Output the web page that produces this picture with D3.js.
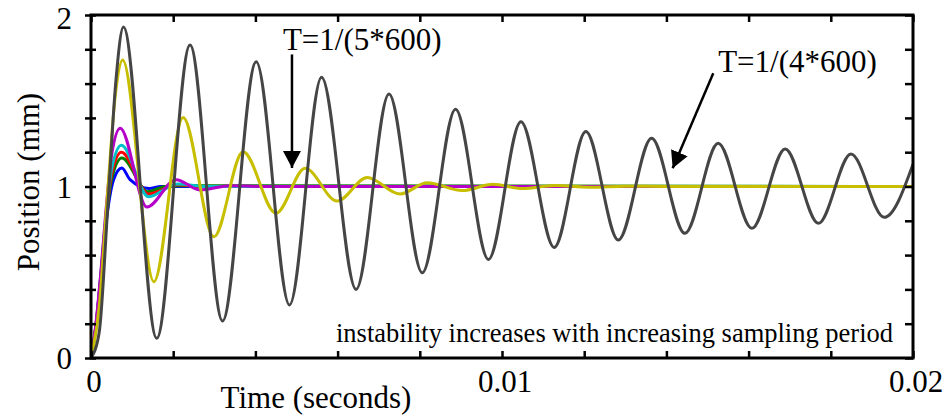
<!DOCTYPE html>
<html>
<head>
<meta charset="utf-8">
<script src="https://cdn.jsdelivr.net/npm/d3@7"></script>
<style>
  body { margin: 0; background: #fff; }
  text { font-family: "Liberation Serif", "Times New Roman", serif; fill: #000; }
</style>
</head>
<body>
<script>

// ---- data (time in s, position in mm) ----
var grayT = [0, 0.0002, 0.0004, 0.0006, 0.00079, 0.0016, 0.00241, 0.0032, 0.00402, 0.00483, 0.00561, 0.00645,
             0.00725, 0.00806, 0.00887, 0.00967, 0.01046, 0.01127, 0.01204, 0.01283, 0.01364, 0.01445,
             0.01526, 0.01608, 0.01689, 0.0177, 0.01849, 0.0193, 0.02];
var grayY = [0, 0.15, 0.85, 1.6, 1.93, 0.115, 1.825, 0.216, 1.728, 0.309, 1.637, 0.40,
             1.539, 0.497, 1.45, 0.575, 1.378, 0.645, 1.32, 0.688, 1.281, 0.727,
             1.252, 0.756, 1.219, 0.785, 1.19, 0.82, 1.13];

var yellowT = [0, 0.0002, 0.0004, 0.0006, 0.00077, 0.00153, 0.00224, 0.00299, 0.0037, 0.0045, 0.00521,
               0.00599, 0.00672, 0.00752, 0.00818, 0.00903, 0.00978, 0.01049, 0.01129, 0.01214, 0.013, 0.014, 0.02];
var yellowY = [0, 0.3, 0.95, 1.55, 1.738, 0.445, 1.403, 0.707, 1.203, 0.844, 1.106,
               0.915, 1.053, 0.956, 1.022, 0.976, 1.013, 0.988, 1.006, 0.996, 1.002, 1.0, 1.0];

var magentaT = [0, 0.00012, 0.00024, 0.00036, 0.0005, 0.00071, 0.00136, 0.00207, 0.00265, 0.00338, 0.0042, 0.02];
var magentaY = [0, 0.2, 0.5, 0.85, 1.18, 1.34, 0.88, 1.04, 0.98, 1.005, 1.0, 1.0];

var cyanT = [0, 0.00012, 0.00024, 0.00036, 0.0005, 0.00074, 0.0014, 0.0021, 0.0028, 0.02];
var cyanY = [0, 0.19, 0.49, 0.82, 1.1, 1.24, 0.94, 1.015, 1.0, 1.0];

var redT = [0, 0.00012, 0.00024, 0.00036, 0.0005, 0.00074, 0.0014, 0.0021, 0.0027, 0.02];
var redY = [0, 0.19, 0.48, 0.8, 1.07, 1.2, 0.956, 1.01, 1.0, 1.0];

var greenT = [0, 0.00012, 0.00024, 0.00036, 0.0005, 0.00075, 0.00138, 0.0018, 0.0021, 0.02];
var greenY = [0, 0.18, 0.47, 0.78, 1.04, 1.166, 0.97, 1.0, 1.005, 1.0];

var blueT = [0, 0.00012, 0.00025, 0.0004, 0.00055, 0.00075, 0.00095, 0.00142, 0.0017, 0.02];
var blueY = [0, 0.18, 0.5, 0.85, 1.04, 1.108, 1.04, 0.988, 1.0, 1.0];

var xTickLabels = [0, 0.01, 0.02];
var yTickLabels = [0, 1, 2];

// ---- canvas ----
var W = 947, H = 416;
var svg = d3.select("body").append("svg")
    .attr("width", W)
    .attr("height", H);

var x = d3.scaleLinear().domain([0, 0.02]).range([91, 913]);
var y = d3.scaleLinear().domain([0, 2]).range([358, 15]);

svg.append("clipPath").attr("id", "plotclip")
  .append("rect")
    .attr("x", x(0)).attr("y", y(2))
    .attr("width", x(0.02) - x(0)).attr("height", y(0) - y(2));

// ---- curves ----
var line = d3.line()
    .x(function(d) { return x(d[0]); })
    .y(function(d) { return y(d[1]); })
    .curve(d3.curveMonotoneX);

function pairs(ts, ys) { return ts.map(function(t, i) { return [t, ys[i]]; }); }

var series = [
  {c: "#0000ff", d: pairs(blueT, blueY)},
  {c: "#008000", d: pairs(greenT, greenY)},
  {c: "#ff0000", d: pairs(redT, redY)},
  {c: "#00c0c8", d: pairs(cyanT, cyanY)},
  {c: "#b400c8", d: pairs(magentaT, magentaY)},
  {c: "#c8be00", d: pairs(yellowT, yellowY)},
  {c: "#454545", d: pairs(grayT, grayY)}
];

svg.append("g").attr("clip-path", "url(#plotclip)")
  .selectAll("path").data(series).enter().append("path")
    .attr("d", function(s) { return line(s.d); })
    .attr("fill", "none")
    .attr("stroke", function(s) { return s.c; })
    .attr("stroke-width", 3)
    .attr("stroke-linejoin", "round");

// ---- axes (tick marks only) ----
var xt = d3.range(0, 0.02001, 0.002), yt = d3.range(0, 2.001, 0.2);

svg.append("g").attr("transform", "translate(0," + y(0) + ")")
    .call(d3.axisTop(x).tickValues(xt).tickSize(7).tickFormat(""));
svg.append("g").attr("transform", "translate(0," + y(2) + ")")
    .call(d3.axisBottom(x).tickValues(xt).tickSize(7).tickFormat(""));
var yl = svg.append("g").attr("transform", "translate(" + x(0) + ",0)")
    .call(d3.axisLeft(y).tickValues(yt).tickSize(6).tickFormat(""));
yl.selectAll(".tick line").attr("x1", 5);
svg.append("g").attr("transform", "translate(" + x(0.02) + ",0)")
    .call(d3.axisLeft(y).tickValues(yt).tickSize(8).tickFormat(""));

svg.selectAll(".domain").remove();
svg.selectAll(".tick line").attr("stroke", "#000").attr("stroke-width", 2.5);

// frame
svg.append("rect")
    .attr("x", x(0)).attr("y", y(2))
    .attr("width", x(0.02) - x(0)).attr("height", y(0) - y(2))
    .attr("fill", "none").attr("stroke", "#000").attr("stroke-width", 3);

// ---- tick labels ----
svg.selectAll(".xl").data(xTickLabels).enter().append("text")
    .attr("class", "xl")
    .attr("x", function(d) { return x(d) + 3; })
    .attr("y", 392)
    .attr("text-anchor", "middle")
    .style("font-size", "31px")
    .text(function(d) { return d; });

svg.selectAll(".yl").data(yTickLabels).enter().append("text")
    .attr("class", "yl")
    .attr("x", 72)
    .attr("y", function(d) { return Math.max(y(d) + 11, 29); })
    .attr("text-anchor", "end")
    .style("font-size", "31px")
    .text(function(d) { return d; });

// axis titles
svg.append("text")
    .attr("x", 316).attr("y", 408)
    .attr("text-anchor", "middle")
    .style("font-size", "31px")
    .text("Time (seconds)");

svg.append("text")
    .attr("transform", "translate(39,182) rotate(-90)")
    .attr("text-anchor", "middle")
    .style("font-size", "31px")
    .text("Position (mm)");

// ---- annotations ----
svg.append("defs").append("marker")
    .attr("id", "arr")
    .attr("markerUnits", "userSpaceOnUse")
    .attr("viewBox", "0 0 18 18")
    .attr("markerWidth", 18).attr("markerHeight", 18)
    .attr("refX", 17).attr("refY", 9)
    .attr("orient", "auto")
  .append("path")
    .attr("d", "M0,0 L17,9 L0,18 Z")
    .attr("fill", "#000");

var notes = [
  {txt: "T=1/(5*600)", tx: 0.00467, ty: 1.796, x1: 0.00489, y1: 1.77, x2: 0.00489, y2: 1.108},
  {txt: "T=1/(4*600)", tx: 0.01526, ty: 1.668, x1: 0.01514, y1: 1.66, x2: 0.014153, y2: 1.106}
];

notes.forEach(function(n) {
  svg.append("line")
      .attr("x1", x(n.x1)).attr("y1", y(n.y1))
      .attr("x2", x(n.x2)).attr("y2", y(n.y2))
      .attr("stroke", "#000").attr("stroke-width", 2.5)
      .attr("marker-end", "url(#arr)");
  svg.append("text")
      .attr("x", x(n.tx)).attr("y", y(n.ty))
      .style("font-size", "31px")
      .text(n.txt);
});

svg.append("text")
    .attr("x", x(0.00596)).attr("y", y(0.0956))
    .style("font-size", "26.5px")
    .text("instability increases with increasing sampling period");

</script>
</body>
</html>
